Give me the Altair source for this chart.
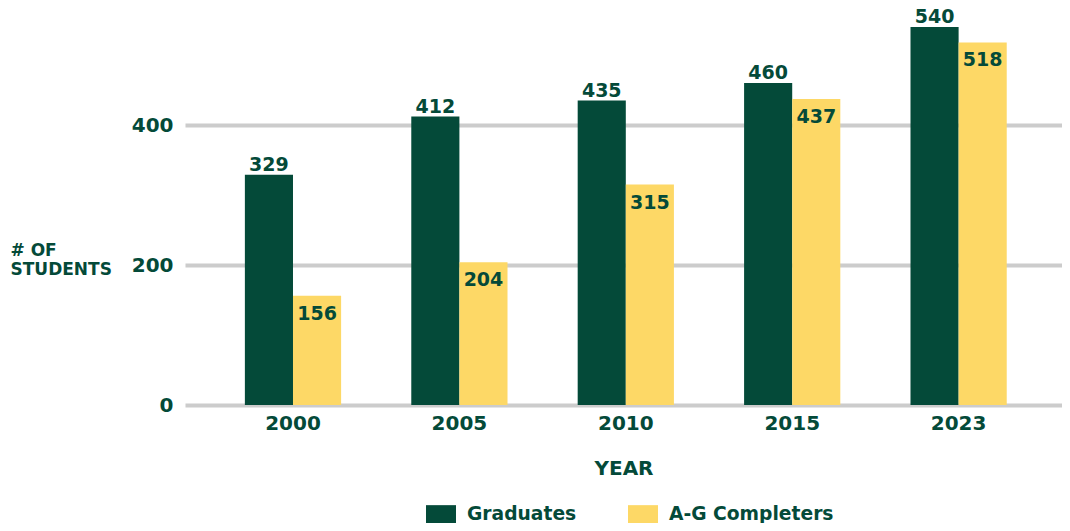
import altair as alt
import pandas as pd

years = ["2000", "2005", "2010", "2015", "2023"]
graduates = [329, 412, 435, 460, 540]
ag_completers = [156, 204, 315, 437, 518]
series = ["Graduates", "A-G Completers"]
colors = ["#044a39", "#fdd866"]

rows = []
for i, y in enumerate(years):
    rows.append({"year": y, "series": series[0], "value": graduates[i]})
    rows.append({"year": y, "series": series[1], "value": ag_completers[i]})
df = pd.DataFrame(rows)

FONT = "DejaVu Sans"
DARK = "#044a39"

x_enc = alt.X("year:N", sort=years,
              scale=alt.Scale(paddingInner=0.4217, paddingOuter=0.346, align=0.52),
              axis=alt.Axis(title="YEAR", labelAngle=0, labelFontSize=20, labelFont=FONT,
                            labelFontWeight="bold", labelColor=DARK, labelPadding=8,
                            titleFontSize=20, titleFont=FONT, titleFontWeight="bold",
                            titleColor=DARK, titlePadding=25, ticks=False, domain=False))
xoff = alt.XOffset("series:N", sort=series, scale=alt.Scale(paddingInner=0, paddingOuter=0))
y_enc = alt.Y("value:Q", scale=alt.Scale(domain=[0, 560], nice=False),
              axis=alt.Axis(values=[0, 200, 400], title=["# OF", "STUDENTS"], titleAngle=0,
                            titleAlign="left", titleBaseline="top", titleX=-175, titleY=229,
                            titleFont=FONT, titleFontSize=17, titleFontWeight="bold",
                            titleColor=DARK, titleLineHeight=19,
                            labelFont=FONT, labelFontSize=20, labelFontWeight="bold",
                            labelColor=DARK, labelPadding=12, ticks=False, domain=False,
                            grid=True, gridColor="#cccccc", gridWidth=4))

bars = alt.Chart(df).mark_bar().encode(
    x=x_enc, xOffset=xoff, y=y_enc,
    color=alt.Color("series:N", sort=series,
                    scale=alt.Scale(domain=series, range=colors),
                    legend=alt.Legend(title=None, orient="none", direction="horizontal",
                                      legendX=241, legendY=486,
                                      symbolType="M-1,-0.6H1V0.6H-1Z", symbolSize=900,
                                      symbolStrokeWidth=0, symbolOpacity=1,
                                      labelFont=FONT, labelFontSize=18.7, labelFontWeight="bold",
                                      labelColor=DARK, labelOffset=11, columnPadding=51,
                                      labelLimit=300)),
)

grad_labels = alt.Chart(df[df.series == series[0]]).mark_text(
    baseline="alphabetic", dy=-4, font=FONT, fontSize=19, fontWeight="bold", color=DARK
).encode(x=alt.X("year:N", sort=years), xOffset=xoff, y="value:Q", text="value:Q")

ag_labels = alt.Chart(df[df.series == series[1]]).mark_text(
    baseline="top", dy=9, font=FONT, fontSize=19, fontWeight="bold", color=DARK
).encode(x=alt.X("year:N", sort=years), xOffset=xoff, y="value:Q", text="value:Q")

chart = alt.layer(bars, grad_labels, ag_labels).properties(
    width=877, height=392,
    autosize=alt.AutoSizeParams(type="none"),
    padding={"left": 177, "top": 5, "right": 0, "bottom": 118},
).configure_view(stroke=None)

chart.save("out.html", embed_options={"renderer": "svg", "actions": False})
